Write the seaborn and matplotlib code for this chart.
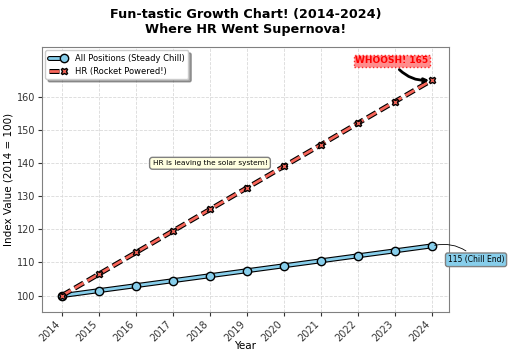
import matplotlib
matplotlib.use('Agg')
import matplotlib.pyplot as plt
import matplotlib.patheffects as pe
from matplotlib.legend_handler import HandlerTuple
import pandas as pd
import seaborn as sns

years = [2014, 2015, 2016, 2017, 2018, 2019, 2020, 2021, 2022, 2023, 2024]
all_positions = [100, 101.5, 103, 104.5, 106, 107.5, 109, 110.5, 112, 113.5, 115]
hr_index = [100, 106.5, 113, 119.5, 126, 132.5, 139, 145.5, 152, 158.5, 165]

sns.set_style('whitegrid', {'grid.linestyle': '--', 'axes.edgecolor': '0.5',
                            'text.color': 'black', 'axes.labelcolor': 'black',
                            'xtick.color': '0.2', 'ytick.color': '0.2'})
plt.rcParams['font.family'] = ['DejaVu Sans']

df = pd.DataFrame({'Year': years, 'All': all_positions, 'HR': hr_index})

fig, ax = plt.subplots(figsize=(5.12, 3.58), dpi=100)
fig.subplots_adjust(left=0.082, right=0.877, top=0.869, bottom=0.128)

outline = [pe.Stroke(linewidth=3.6, foreground='black'), pe.Normal()]

# lines with black outline, markers drawn on top without the outline
sns.lineplot(data=df, x='Year', y='All', ax=ax, color='skyblue', linewidth=2,
             path_effects=outline, legend=False)
all_line = ax.lines[-1]
sns.lineplot(data=df, x='Year', y='All', ax=ax, color='skyblue', linestyle='none',
             marker='o', markersize=6, markeredgecolor='black', markeredgewidth=1,
             legend=False)
all_mark = ax.lines[-1]

sns.lineplot(data=df, x='Year', y='HR', ax=ax, color='#f8665a', linewidth=2,
             linestyle='--', path_effects=outline, legend=False)
hr_line = ax.lines[-1]
sns.lineplot(data=df, x='Year', y='HR', ax=ax, color='#f8665a', linestyle='none',
             marker='X', markersize=5, markeredgecolor='black', markeredgewidth=1,
             legend=False)
hr_mark = ax.lines[-1]

ax.set_xlim(2013.46, 2024.46)
ax.set_ylim(95, 175)
ax.set_xticks(years)
ax.set_xticklabels([str(y) for y in years], rotation=45, ha='right', fontsize=7)
ax.set_yticks([100, 110, 120, 130, 140, 150, 160])
ax.tick_params(axis='y', labelsize=7, left=True, length=3, pad=2)
ax.tick_params(axis='x', bottom=True, length=3, pad=2)
ax.grid(True, linestyle='--', color='0.85', linewidth=0.6)
ax.set_xlabel('Year', fontsize=7.5, labelpad=-2)
ax.set_ylabel('Index Value (2014 = 100)', fontsize=7.5, labelpad=2)
ax.set_title('Fun-tastic Growth Chart! (2014-2024)\nWhere HR Went Supernova!',
             fontsize=9.2, fontweight='bold', pad=10)

ax.legend([(all_line, all_mark), (hr_line, hr_mark)],
          ['All Positions (Steady Chill)', 'HR (Rocket Powered!)'],
          handler_map={tuple: HandlerTuple(ndivide=None, pad=0)},
          loc='upper left', fontsize=6, frameon=True, fancybox=True, shadow=True,
          framealpha=1, handlelength=2.4, borderaxespad=0.4)

ax.annotate('WHOOSH! 165', xy=(years[-1], hr_index[-1]), xytext=(2022.92, 170.8),
            fontsize=6.5, fontweight='bold', color='red', ha='center', va='center',
            bbox=dict(boxstyle='square,pad=0.2', facecolor='#ff7070', edgecolor='red',
                      linestyle=':', alpha=0.8),
            arrowprops=dict(arrowstyle='->', color='black', lw=2,
                            connectionstyle='arc3,rad=0.3'))
ax.annotate('115 (Chill End)', xy=(years[-1], all_positions[-1]), xytext=(2025.19, 110.8),
            fontsize=5.5, ha='center', va='center', annotation_clip=False,
            bbox=dict(boxstyle='round,pad=0.3', facecolor='skyblue', edgecolor='gray'),
            arrowprops=dict(arrowstyle='-', color='black', lw=0.6,
                            connectionstyle='arc3,rad=0.3'))
ax.text(2018.0, 139.9, 'HR is leaving the solar system!', fontsize=5.3, ha='center',
        va='center', bbox=dict(boxstyle='round,pad=0.4', facecolor='lightyellow',
                               edgecolor='gray'))

plt.savefig('out.png', dpi=100)
plt.close()
